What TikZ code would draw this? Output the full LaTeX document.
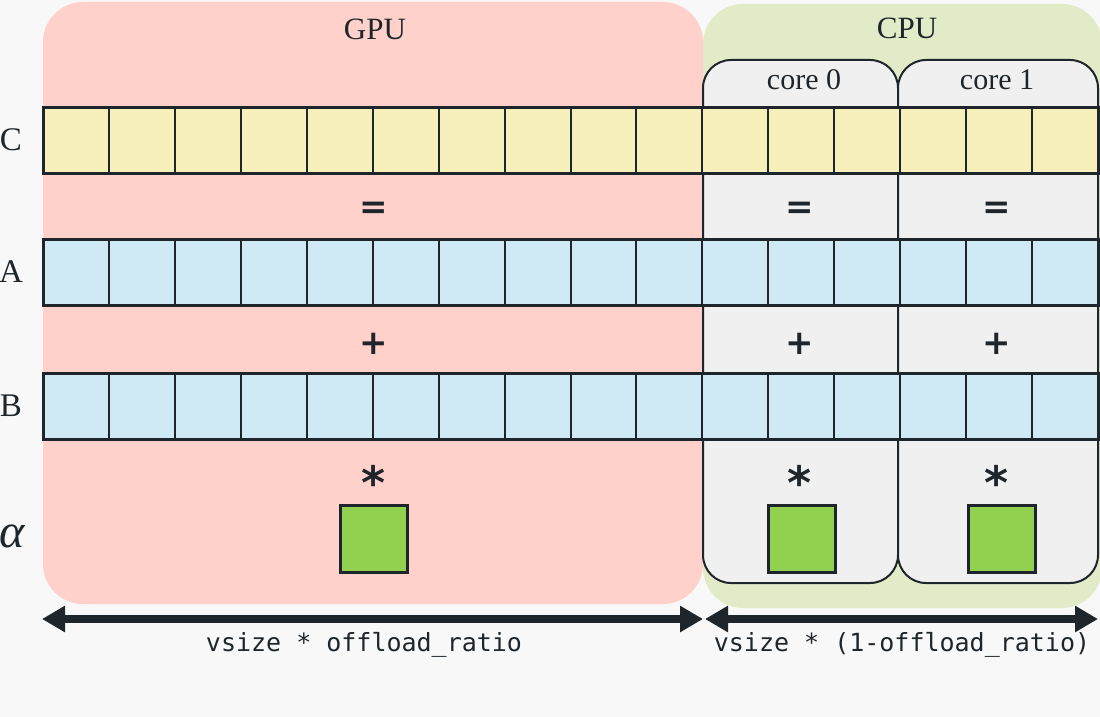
\documentclass[tikz,border=0pt]{standalone}
\usepackage{fontspec}
\setmainfont{Liberation Serif}
\setmonofont{DejaVu Sans Mono}
\newfontfamily\opfont{DejaVu Sans}
\usetikzlibrary{arrows.meta}
\definecolor{bgc}{HTML}{F8F8F8}
\definecolor{gpuc}{HTML}{FFD1CA}
\definecolor{cpuc}{HTML}{E1EBC8}
\definecolor{corec}{HTML}{F0F0F0}
\definecolor{cellC}{HTML}{F8F0BA}
\definecolor{cellAB}{HTML}{CFEAF5}
\definecolor{alphac}{HTML}{92D050}
\definecolor{dark}{HTML}{1F262B}
\tikzset{
  cell/.style={draw=dark, line width=2pt, minimum width=65.9375pt, minimum height=66.5pt, inner sep=0pt, outer sep=0pt, anchor=north west},
  corebox/.style={draw=dark, line width=2pt, fill=corec, rounded corners=28pt},
  title/.style={text=dark, font=\fontsize{31}{36}\selectfont},
  corelab/.style={text=dark, font=\fontsize{30}{36}\selectfont},
  rowlab/.style={text=dark, font=\fontsize{33}{40}\selectfont},
  op/.style={text=dark, font=\opfont\bfseries\fontsize{34}{40}\selectfont, inner sep=0pt},
  astop/.style={text=dark, font=\opfont\bfseries\fontsize{46}{50}\selectfont, inner sep=0pt, anchor=north},
  alphabox/.style={draw=dark, line width=2.5pt, fill=alphac, minimum width=67pt, minimum height=67pt, inner sep=0pt},
  dimarrow/.style={draw=dark, line width=8pt, arrows={Triangle[length=23pt,width=25pt]-Triangle[length=23pt,width=25pt]}},
  dimlab/.style={text=dark, font=\ttfamily\fontsize{25}{30}\selectfont}
}
\begin{document}
\begin{tikzpicture}[x=1pt,y=-1pt]
\fill[bgc] (0,0) rectangle (1100,717);
\useasboundingbox (0,0) rectangle (1100,717);
% regions
\fill[gpuc, rounded corners=40pt] (43,2) rectangle (703,604);
\fill[cpuc, rounded corners=40pt] (703,4) rectangle (1102,608);
\draw[corebox] (703,60) rectangle (898,583);
\draw[corebox] (898,60) rectangle (1098,583);
\node[title] (gpu) at (375,29) {GPU};
\node[title] (cpu) at (907,28) {CPU};
\node[corelab] (core0) at (804,80) {core 0};
\node[corelab] (core1) at (997,80) {core 1};
% arrays
\foreach \rowname/\ytop/\cellcol in {C/107/cellC, A/239/cellAB, B/373/cellAB} {
  \foreach \i in {0,...,15} {
    \node[cell, fill=\cellcol] (\rowname\i) at ({43+\i*65.9375},\ytop) {};
  }
  \draw[draw=dark, line width=3pt] (\rowname0.north west) rectangle (\rowname15.south east);
}
% row labels
\node[rowlab] (labC) at (11,140) {C};
\node[rowlab] (labA) at (11,272) {A};
\node[rowlab] (labB) at (11,406) {B};
\node[rowlab, font=\fontsize{48}{52}\selectfont\itshape, inner sep=0pt] (labalpha) at (12,536) {α};
% operators
\foreach \nm/\xx in {g/374, c0/800, c1/997} {
  \node[op] (eq\nm) at (\xx,210) {=};
  \node[op] (plus\nm) at (\xx,344) {+};
  \node[astop] (ast\nm) at (\xx,465) {*};
}
% alpha squares
\node[alphabox] (alg) at (374,539) {};
\node[alphabox] (alc0) at (802,539) {};
\node[alphabox] (alc1) at (1002,539) {};
% dimension arrows
\coordinate (gl) at (42,619);
\coordinate (gr) at (703,619);
\coordinate (cl) at (705,619);
\coordinate (cr) at (1098,619);
\draw[dimarrow] (gl) -- (gr);
\draw[dimarrow] (cl) -- (cr);
\node[dimlab] (gtxt) at (364,645) {vsize * offload\_ratio};
\node[dimlab] (ctxt) at (902,645) {vsize * (1-offload\_ratio)};
\end{tikzpicture}
\end{document}
